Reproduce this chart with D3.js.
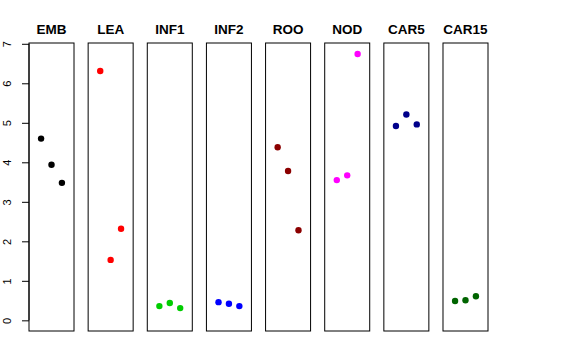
<!DOCTYPE html>
<html>
<head>
<meta charset="utf-8">
<script src="https://cdn.jsdelivr.net/npm/d3@7"></script>
<style>
  body { margin: 0; background: #fff; }
  svg { display: block; font-family: "Liberation Sans", Arial, sans-serif; }
</style>
</head>
<body>
<svg id="chart" width="576" height="360"></svg>
<script>
// data
const tissues = ["EMB", "LEA", "INF1", "INF2", "ROO", "NOD", "CAR5", "CAR15"];
const colors = ["#000000", "#ff0000", "#00cd00", "#0000ff", "#8b0000", "#ff00ff", "#00008b", "#006400"];
const rep1 = [4.60, 6.31, 0.36, 0.46, 4.38, 3.55, 4.92, 0.49];
const rep2 = [3.94, 1.53, 0.44, 0.42, 3.78, 3.67, 5.21, 0.51];
const rep3 = [3.48, 2.32, 0.31, 0.36, 2.28, 6.74, 4.96, 0.61];
const yTicks = [0, 1, 2, 3, 4, 5, 6, 7];

const svg = d3.select("#chart");

const panels = d3.scaleBand()
    .domain(tissues)
    .range([29, 488])
    .paddingInner(0.239)
    .paddingOuter(0);

const y = d3.scaleLinear()
    .domain([-0.27, 7.02])
    .range([331, 43]);

const xin = d3.scaleLinear()
    .domain([-0.16, 4.16])
    .range([0, panels.bandwidth()]);

// y axis, on the left of the first panel
const axis = svg.append("g")
    .attr("transform", "translate(" + panels(tissues[0]) + ",0)")
    .call(d3.axisLeft(y).tickValues(yTicks).tickSize(7).tickFormat(d3.format("d")));
axis.select(".domain").remove();
axis.selectAll(".tick line").attr("stroke", "#000");
axis.selectAll(".tick text")
    .attr("x", 0).attr("dy", 0)
    .attr("transform", "translate(-18,0) rotate(-90)")
    .attr("text-anchor", "middle")
    .attr("font-size", 11)
    .attr("font-family", "Liberation Sans, Arial, sans-serif")
    .attr("fill", "#000");
axis.append("line")
    .attr("y1", y(0)).attr("y2", y(7))
    .attr("stroke", "#000");

tissues.forEach(function (t, i) {
    const g = svg.append("g")
        .attr("transform", "translate(" + panels(t) + ",0)");

    g.append("rect")
        .attr("x", 0).attr("y", y(7.02))
        .attr("width", panels.bandwidth())
        .attr("height", y(-0.27) - y(7.02))
        .attr("fill", "none")
        .attr("stroke", "#000");

    g.append("text")
        .attr("x", panels.bandwidth() / 2)
        .attr("y", 34)
        .attr("text-anchor", "middle")
        .attr("font-weight", "bold")
        .attr("font-size", 13.5)
        .text(t);

    const vals = [rep1[i], rep2[i], rep3[i]];
    g.selectAll("circle")
        .data(vals)
        .enter().append("circle")
        .attr("cx", function (d, j) { return xin(j + 1); })
        .attr("cy", function (d) { return y(d); })
        .attr("r", 3.2)
        .attr("fill", colors[i]);
});
</script>
</body>
</html>
